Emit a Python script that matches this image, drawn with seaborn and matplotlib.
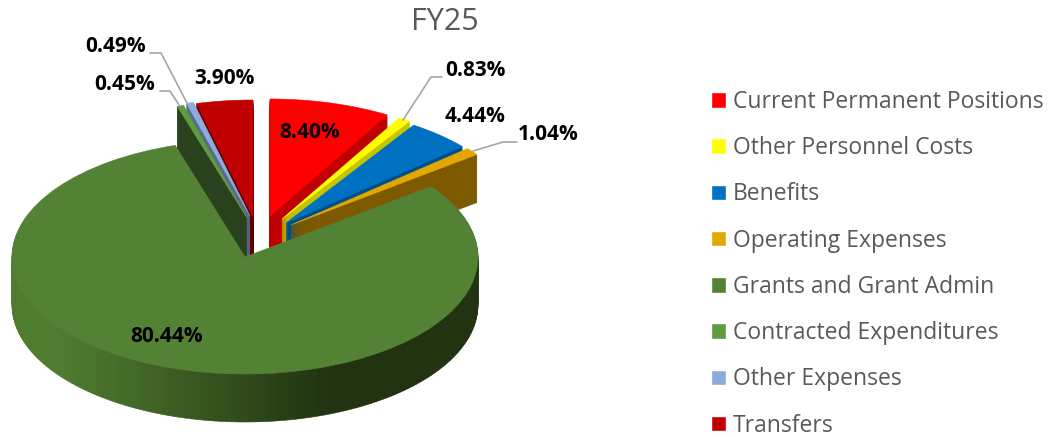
import numpy as np
import matplotlib
matplotlib.use("Agg")
import matplotlib.pyplot as plt
from matplotlib.colors import to_rgb
from matplotlib.patches import Patch
import seaborn as sns

categories = ["Current Permanent Positions", "Other Personnel Costs", "Benefits",
              "Operating Expenses", "Grants and Grant Admin", "Contracted Expenditures",
              "Other Expenses", "Transfers"]
shares = [8.40, 0.83, 4.44, 1.04, 80.44, 0.45, 0.49, 3.90]
share_labels = ["8.40%", "0.83%", "4.44%", "1.04%", "80.44%", "0.45%", "0.49%", "3.90%"]
top_colors = ["#ff0000", "#ffff00", "#0070c0", "#e2a800", "#548235", "#5f9b3f", "#8faadc", "#c00000"]
wall_colors = ["#bf0000", "#c4c400", "#004f8a", "#7d5a00", "#2a411d", "#2a411d", "#5a6a8b", "#5e0000"]

W, H = 1048, 437
CX, CY = 245, 257     # pie centre in pixels
RX, RY = 233, 117     # ellipse radii in pixels
DEPTH = 48
# how far each slice is pulled out of the pie, in pixels
pull = [(25, -41), (37, -38), (41, -34), (46, -32), (0, 0), (2, -39), (5, -41), (8, -40)]
label_pos = [(310, 132), (475, 70), (475, 116), (548, 135), (167, 336), (125, 85), (116, 47), (224, 79)]
leaders = {1: [(442, 77), (431, 77), (403, 120)],
           3: [(517, 142), (503, 142), (473, 151)],
           5: [(160, 91), (170, 91), (179, 105)],
           6: [(150, 53), (161, 53), (187, 103)]}

sns.set_theme(style="white")
plt.rcParams["font.family"] = ["Open Sans", "DejaVu Sans"]

fig = plt.figure(figsize=(W / 100, H / 100), dpi=100)
ax = fig.add_axes([0, 0, 1, 1])

fractions = np.array(shares) / sum(shares)
starts = np.concatenate([[0], np.cumsum(fractions)[:-1]]) * 360


def draw_slice(i, drop, colors=None, pieces=1):
    # one slice as its own pie so it can be moved on its own
    center = (pull[i][0] / RX, -(pull[i][1] + drop) / RY)
    wedges, _ = ax.pie([fractions[i] / pieces] * pieces, colors=colors or [top_colors[i]],
                       startangle=90 - starts[i], counterclock=False, center=center,
                       normalize=False)
    for w in wedges:
        w.set_edgecolor(w.get_facecolor())
        w.set_linewidth(0.4)


def green_shade(n):
    # the outer wall gets darker from left to right
    light, dark = np.array(to_rgb("#507c30")), np.array(to_rgb("#213311"))
    mids = np.radians(starts[4] + (np.arange(n) + 0.5) * fractions[4] * 360 / n)
    x = CX + RX * np.sin(mids)
    t = np.clip((x - 60) / 270, 0, 1)
    return [tuple(light + (dark - light) * v) for v in t]


# back to front: right hand slices, left hand slices, then the big one
for i in [0, 1, 2, 3, 7, 6, 5]:
    for drop in range(DEPTH, 0, -1):
        draw_slice(i, drop, colors=[wall_colors[i]])
    draw_slice(i, 0)

N = 200
shades = green_shade(N)
for drop in range(DEPTH, 0, -1):
    draw_slice(4, drop, colors=shades, pieces=N)
draw_slice(4, 0)

ax.set_aspect("auto")
ax.set_xlim(-CX / RX, (W - CX) / RX)
ax.set_ylim((CY - H) / RY, CY / RY)
ax.axis("off")

# overlay in pixel units for the text
ov = fig.add_axes([0, 0, 1, 1])
ov.set_xlim(0, W)
ov.set_ylim(H, 0)
ov.axis("off")
ov.patch.set_alpha(0)

for i, pts in leaders.items():
    ov.plot(*zip(*pts), color="#a6a6a6", lw=1.2)
for lab, (x, y) in zip(share_labels, label_pos):
    ov.text(x, y, lab, ha="center", va="center", fontsize=15, fontweight="bold", color="black")

ov.text(445, 22, "FY25", ha="center", va="center", fontsize=22, color="#595959")

handles = [Patch(facecolor=c, label=n) for c, n in zip(top_colors, categories)]
ov.legend(handles=handles, loc="upper left", bbox_to_anchor=(711, 90),
          bbox_transform=ov.transData, frameon=False, borderpad=0, borderaxespad=0,
          fontsize=16.5, labelcolor="#595959", handlelength=0.66, handleheight=0.66,
          handletextpad=0.3, labelspacing=0.97)

fig.savefig("out.png", dpi=100)
